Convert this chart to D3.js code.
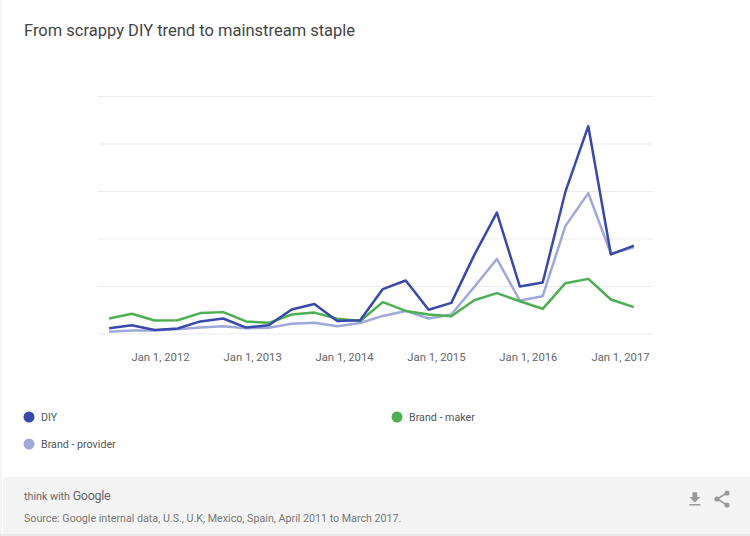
<!DOCTYPE html>
<html>
<head>
<meta charset="utf-8">
<script src="https://cdn.jsdelivr.net/npm/d3@7"></script>
<style>
   html, body { margin: 0; padding: 0; background: #fff; }
   svg { display: block; font-family: Roboto, sans-serif; }
   .domain { display: none; }
</style>
</head>
<body>
<div id="chart"></div>
<script>
// data, roughly one point per quarter
const dates = ['2011-06-13', '2011-09-11', '2011-12-11', '2012-03-11', '2012-06-09', '2012-09-08',
   '2012-12-08', '2013-03-08', '2013-06-07', '2013-09-05', '2013-12-05', '2014-03-06',
   '2014-06-04', '2014-09-03', '2014-12-03', '2015-03-03', '2015-06-02', '2015-08-31',
   '2015-11-30', '2016-02-29', '2016-05-29', '2016-08-28', '2016-11-26', '2017-02-25'];
const diy = [2.2, 3.5, 1.5, 2.1, 5.1, 6.3, 2.5, 3.5, 10.1, 12.4, 5.3, 5.6,
   18.7, 22.3, 10, 12.9, 33, 50.9, 19.8, 21.5, 59.6, 87.3, 33.3, 37];
const brandProvider = [0.7, 1.3, 1.3, 1.8, 2.5, 3.1, 2.2, 2.4, 4.1, 4.5, 3.1, 4.4,
   7.4, 9.5, 6.3, 8, 19.6, 31.4, 13.9, 15.7, 45.2, 59.1, 33.6, 36.3];
const brandMaker = [6.3, 8.3, 5.5, 5.6, 8.6, 9, 5.1, 4.5, 8, 8.8, 6.2, 5.3,
   13.2, 9.5, 8, 7.3, 14, 17, 13.6, 10.4, 21.2, 23, 14.3, 11.1];
const yTicks = [0, 20, 40, 60, 80, 100];
const xTicks = ['2012-01-01', '2013-01-01', '2014-01-01', '2015-01-01', '2016-01-01', '2017-01-01'];

const width = 750;
const height = 536;

const svg = d3.select('#chart')
   .append('svg')
   .attr('width', width)
   .attr('height', height);

// scales, the time domain is pinned to the first and last labelled year
const x = d3.scaleUtc()
   .domain([new Date(xTicks[0]), new Date(xTicks[5])])
   .range([160, 620]);

const y = d3.scaleLinear()
   .domain([0, 100])
   .range([333.5, 96]);

// card edge and footer
svg.append('rect')
   .attr('width', 2)
   .attr('height', height)
   .attr('fill', '#f5f5f5');

svg.append('rect')
   .attr('x', 3)
   .attr('y', 477)
   .attr('width', width - 3)
   .attr('height', 57)
   .attr('fill', '#f4f4f4');

svg.append('rect')
   .attr('x', 0)
   .attr('y', 534)
   .attr('width', width)
   .attr('height', 2)
   .attr('fill', '#e9e9e9');

svg.append('text')
   .attr('x', 24)
   .attr('y', 35.5)
   .attr('font-size', 16.5)
   .attr('fill', '#444')
   .text('From scrappy DIY trend to mainstream staple');

// gridlines
const yAxis = svg.append('g')
   .attr('transform', 'translate(98,0)')
   .call(d3.axisRight(y).tickValues(yTicks).tickSize(555).tickFormat(''));

yAxis.selectAll('line').attr('stroke', '#ebebeb');

// year labels
const xAxis = svg.append('g')
   .attr('transform', 'translate(0,333)')
   .call(d3.axisBottom(x)
      .tickValues(xTicks.map(d => new Date(d)))
      .tickSize(0)
      .tickPadding(20)
      .tickFormat(d3.utcFormat('%b %-d, %Y')));

xAxis.selectAll('text')
   .attr('font-family', 'Roboto, sans-serif')
   .attr('font-size', 11.3)
   .attr('fill', '#666');

// lines
const line = d3.line()
   .x((d, i) => x(new Date(dates[i])))
   .y(d => y(d));

const series = [
   { name: 'Brand - provider', values: brandProvider, color: '#9fa8da' },
   { name: 'Brand - maker', values: brandMaker, color: '#4caf50' },
   { name: 'DIY', values: diy, color: '#3949ab' }
];

svg.append('g')
   .selectAll('path')
   .data(series)
   .join('path')
   .attr('d', d => line(d.values))
   .attr('fill', 'none')
   .attr('stroke', d => d.color)
   .attr('stroke-width', 2.5)
   .attr('stroke-linejoin', 'round');

// legend
const legendSpots = { 'DIY': [29, 417], 'Brand - maker': [397, 417], 'Brand - provider': [29, 444] };

const legend = svg.append('g')
   .selectAll('g')
   .data(series)
   .join('g')
   .attr('transform', d => `translate(${legendSpots[d.name]})`);

legend.append('circle')
   .attr('r', 5.5)
   .attr('fill', d => d.color);

legend.append('text')
   .attr('x', 12)
   .attr('y', 4)
   .attr('font-size', 10.7)
   .attr('fill', '#555')
   .text(d => d.name);

// footer text
const brand = svg.append('text')
   .attr('x', 24)
   .attr('y', 500)
   .attr('font-size', 10.7)
   .attr('fill', '#666')
   .text('think with ');

brand.append('tspan')
   .attr('font-size', 12.5)
   .attr('letter-spacing', -0.3)
   .text('Google');

svg.append('text')
   .attr('x', 24)
   .attr('y', 522)
   .attr('font-size', 10.7)
   .attr('fill', '#777')
   .text('Source: Google internal data, U.S., U.K, Mexico, Spain, April 2011 to March 2017.');

// download icon
svg.append('path')
   .attr('transform', 'translate(685.5,490) scale(0.78)')
   .attr('d', 'M19 9h-4V3H9v6H5l7 7 7-7zM5 18v2h14v-2H5z')
   .attr('fill', '#999');

// share icon
const share = svg.append('g')
   .attr('transform', 'translate(722,499)');

share.append('path')
   .attr('d', 'M5 -6 L-5 0 L5 6')
   .attr('fill', 'none')
   .attr('stroke', '#999')
   .attr('stroke-width', 1.5);

share.selectAll('circle')
   .data([[5, -6], [-5, 0], [5, 6]])
   .join('circle')
   .attr('cx', d => d[0])
   .attr('cy', d => d[1])
   .attr('r', 2.6)
   .attr('fill', '#999');
</script>
</body>
</html>
